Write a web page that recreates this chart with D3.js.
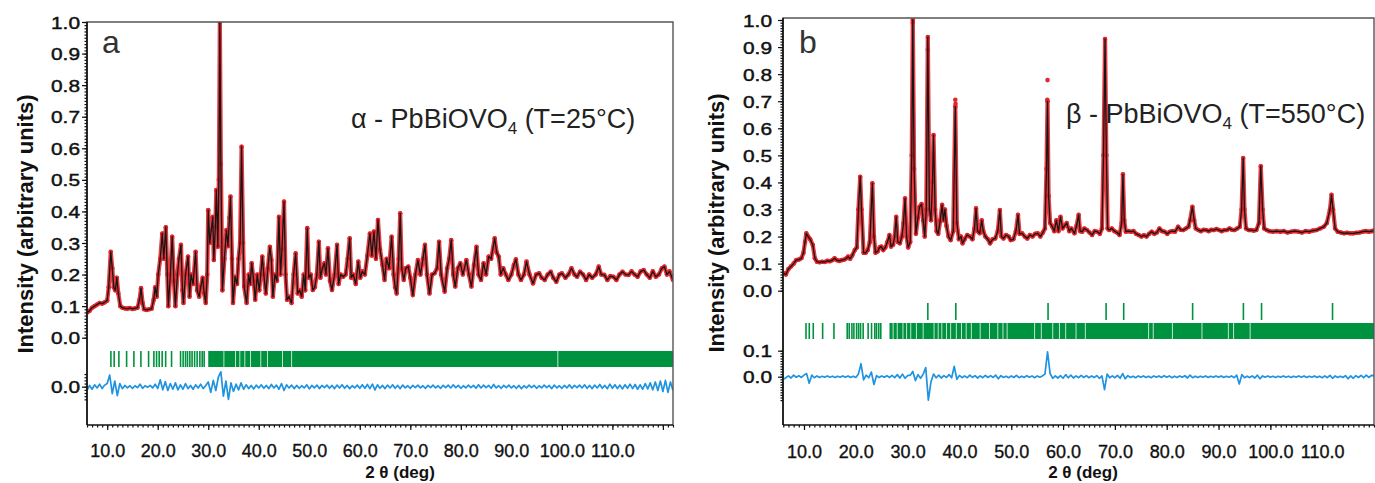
<!DOCTYPE html>
<html><head><meta charset="utf-8">
<script src="https://cdn.jsdelivr.net/npm/d3@7"></script>
<style>body{margin:0;background:#fff} svg{display:block} text{font-family:"Liberation Sans",Arial,sans-serif}</style>
</head><body><svg id="c" width="1375" height="483"></svg>
<script>
// ---------- DATA ----------
// panel a : alpha-PbBiOVO4, 25 C  : [2theta, normalised intensity]
const profileA = [[6.0,0.08],[6.5,0.085],[7.0,0.095],[7.5,0.1],[8.0,0.105],[8.5,0.11],[9.0,0.108],[9.5,0.112],[10.0,0.118],[10.3,0.16],[10.7,0.272],[11.0,0.22],[11.3,0.16],[11.6,0.15],[11.9,0.19],[12.2,0.14],[12.6,0.1],[13.0,0.095],[13.5,0.093],[14.0,0.092],[14.5,0.094],[15.0,0.091],[15.5,0.093],[16.0,0.095],[16.4,0.12],[16.7,0.157],[17.0,0.11],[17.3,0.09],[17.8,0.088],[18.3,0.09],[18.8,0.092],[19.2,0.12],[19.5,0.16],[19.8,0.13],[20.1,0.2],[20.5,0.25],[20.9,0.33],[21.2,0.25],[21.6,0.35],[21.9,0.2],[22.1,0.1],[22.5,0.2],[22.86,0.32],[23.2,0.18],[23.5,0.1],[23.9,0.2],[24.2,0.25],[24.6,0.294],[24.9,0.15],[25.1,0.11],[25.5,0.2],[26.0,0.257],[26.3,0.13],[26.6,0.2],[27.0,0.17],[27.5,0.272],[27.8,0.15],[28.2,0.13],[28.5,0.16],[28.9,0.19],[29.2,0.14],[29.5,0.11],[29.8,0.2],[30.0,0.404],[30.3,0.3],[30.6,0.341],[30.9,0.383],[31.1,0.246],[31.4,0.35],[31.6,0.468],[31.9,0.288],[32.1,0.5],[32.3,1.0],[32.5,0.55],[32.8,0.15],[33.2,0.25],[33.6,0.341],[33.9,0.29],[34.2,0.38],[34.4,0.447],[34.7,0.25],[34.9,0.11],[35.3,0.193],[35.7,0.17],[36.0,0.25],[36.3,0.3],[36.6,0.605],[36.9,0.3],[37.1,0.162],[37.6,0.11],[38.0,0.2],[38.3,0.17],[38.6,0.236],[39.0,0.18],[39.3,0.12],[39.7,0.2],[40.1,0.15],[40.4,0.2],[40.7,0.257],[41.0,0.2],[41.4,0.14],[41.8,0.22],[42.2,0.288],[42.5,0.246],[42.8,0.13],[43.2,0.2],[43.6,0.18],[44.0,0.383],[44.3,0.2],[44.6,0.28],[45.0,0.431],[45.3,0.2],[45.6,0.12],[46.0,0.13],[46.5,0.11],[46.9,0.2],[47.3,0.267],[47.7,0.14],[48.1,0.15],[48.5,0.13],[48.9,0.2],[49.2,0.15],[49.6,0.347],[49.9,0.19],[50.3,0.2],[50.7,0.151],[51.1,0.16],[51.5,0.2],[51.9,0.304],[52.2,0.19],[52.6,0.22],[53.0,0.236],[53.3,0.2],[53.7,0.283],[54.1,0.18],[54.5,0.151],[55.0,0.2],[55.5,0.294],[55.8,0.17],[56.2,0.2],[56.7,0.193],[57.2,0.2],[57.6,0.25],[58.0,0.315],[58.3,0.19],[58.7,0.2],[59.2,0.17],[59.7,0.241],[60.1,0.19],[60.5,0.21],[61.0,0.2],[61.5,0.26],[62.0,0.33],[62.4,0.26],[62.8,0.336],[63.2,0.25],[63.6,0.373],[64.0,0.28],[64.5,0.23],[64.9,0.183],[65.3,0.25],[65.8,0.22],[66.3,0.32],[66.7,0.2],[67.0,0.16],[67.3,0.14],[67.7,0.25],[68.0,0.394],[68.3,0.22],[68.7,0.183],[69.1,0.22],[69.6,0.225],[70.0,0.19],[70.5,0.135],[71.0,0.2],[71.5,0.246],[72.0,0.2],[72.5,0.25],[72.9,0.294],[73.3,0.2],[73.8,0.14],[74.3,0.2],[74.8,0.204],[75.3,0.22],[75.7,0.304],[76.1,0.2],[76.8,0.146],[77.3,0.22],[77.7,0.25],[78.1,0.309],[78.5,0.2],[78.9,0.162],[79.4,0.22],[79.9,0.236],[80.4,0.2],[81.1,0.246],[81.6,0.2],[82.1,0.162],[82.6,0.23],[83.1,0.288],[83.5,0.2],[84.0,0.183],[84.5,0.236],[85.0,0.2],[85.5,0.257],[86.0,0.25],[86.7,0.315],[87.1,0.27],[87.5,0.257],[87.9,0.2],[88.4,0.22],[88.9,0.2],[89.4,0.183],[90.0,0.2],[90.5,0.23],[90.9,0.248],[91.4,0.2],[91.9,0.183],[92.5,0.2],[93.0,0.241],[93.6,0.2],[94.3,0.172],[94.9,0.2],[95.5,0.204],[96.0,0.19],[96.6,0.183],[97.2,0.2],[97.8,0.209],[98.3,0.19],[98.9,0.177],[99.5,0.2],[100.0,0.204],[100.7,0.19],[101.3,0.2],[101.9,0.22],[102.5,0.2],[103.0,0.193],[103.6,0.209],[104.2,0.2],[104.8,0.183],[105.4,0.2],[106.0,0.19],[106.7,0.2],[107.3,0.225],[107.8,0.2],[108.4,0.199],[109.0,0.183],[109.6,0.195],[110.2,0.193],[110.8,0.183],[111.4,0.2],[112.0,0.209],[112.6,0.2],[113.2,0.199],[113.8,0.21],[114.4,0.2],[115.0,0.193],[115.6,0.21],[116.2,0.214],[116.8,0.2],[117.4,0.19],[118.0,0.21],[118.6,0.193],[119.2,0.2],[119.8,0.22],[120.3,0.225],[120.8,0.2],[121.3,0.21],[122.0,0.183]];
const obsExtraA = [];
// difference curve, one value every 0.5 deg starting at 6.0
const diffStartA = 6.0;
const diffA = [-0.012,0.004,-0.008,0.006,-0.004,0.008,-0.006,0.005,0.010,0.037,
-0.022,0.018,-0.028,0.010,-0.006,0.004,-0.004,0.003,-0.005,0.003,
-0.003,0.008,-0.005,0.003,-0.002,0.004,-0.004,0.008,-0.006,0.022,
-0.010,0.016,-0.012,0.010,-0.008,0.012,-0.010,0.006,-0.008,0.010,
-0.006,0.004,-0.008,0.006,-0.004,0.008,-0.006,0.004,0.015,-0.018,
0.020,-0.012,0.030,0.047,-0.030,0.018,-0.040,0.012,-0.015,0.008,
-0.010,0.012,-0.008,0.006,-0.006,0.004,-0.007,0.005,-0.004,0.006,
-0.005,0.004,-0.006,0.007,-0.004,0.005,-0.008,0.010,-0.012,0.006,
-0.004,0.005,-0.006,0.004,-0.005,0.003,-0.004,0.006,-0.007,0.004,
-0.004,0.005,-0.006,0.004,-0.003,0.005,-0.005,0.004,-0.006,0.005,
-0.004,0.006,-0.005,0.004,-0.006,0.003,-0.004,0.005,-0.005,0.006,
-0.005,0.007,-0.006,0.008,-0.010,0.006,-0.005,0.004,-0.006,0.005,
-0.004,0.006,-0.005,0.004,-0.006,0.005,-0.004,0.003,-0.005,0.004,
-0.003,0.005,-0.004,0.003,-0.005,0.004,-0.003,0.005,-0.004,0.003,
-0.005,0.004,-0.003,0.005,-0.004,0.006,-0.003,0.004,-0.005,0.003,
-0.004,0.005,-0.003,0.004,-0.005,0.006,-0.004,0.005,-0.003,0.004,
-0.005,0.007,-0.004,0.003,-0.005,0.004,-0.003,0.005,-0.004,0.003,
-0.005,0.004,-0.006,0.003,-0.004,0.005,-0.003,0.004,-0.005,0.003,
-0.004,0.005,-0.003,0.004,-0.006,0.005,-0.004,0.003,-0.005,0.004,
-0.004,0.006,-0.005,0.004,-0.003,0.005,-0.004,0.006,-0.005,0.004,
-0.006,0.005,-0.004,0.007,-0.005,0.004,-0.006,0.008,-0.005,0.006,
-0.006,0.005,-0.007,0.006,-0.005,0.008,-0.006,0.007,-0.008,0.006,
-0.008,0.010,-0.007,0.012,-0.010,0.015,-0.012,0.018,-0.015,0.020,
-0.018,0.015,-0.012];
// Bragg reflection markers
const reflA = [10.73,11.38,12.31,13.84,15.28,16.67,18.19,19.24,19.77,20.29,20.88,21.57,22.74,24.52,25.03,25.5,25.9,26.36,26.8,27.3,27.8,28.34,28.8,29.19];
const bandA = [30.0,122.0];
const bandGapsA = [33.1,35.4,36.25,37.24,38.37,40.4,41.73,44.7,46.5,99.2];
const refl2A = [];

// panel b : beta-PbBiOVO4, 550 C
const profileB = [[6.0,0.065],[6.5,0.06],[7.0,0.08],[7.5,0.09],[8.0,0.1],[8.5,0.113],[9.0,0.115],[9.5,0.12],[9.9,0.14],[10.2,0.18],[10.45,0.212],[10.8,0.2],[11.2,0.19],[11.7,0.169],[12.1,0.12],[12.5,0.107],[13.0,0.105],[13.5,0.107],[14.0,0.106],[14.5,0.11],[15.0,0.109],[15.5,0.113],[15.9,0.12],[16.3,0.113],[16.8,0.11],[17.3,0.113],[17.8,0.115],[18.2,0.12],[18.5,0.126],[18.9,0.118],[19.3,0.13],[19.8,0.15],[20.2,0.16],[20.5,0.3],[20.85,0.421],[21.1,0.3],[21.5,0.14],[21.9,0.14],[22.3,0.15],[22.7,0.18],[23.2,0.397],[23.5,0.2],[23.8,0.14],[24.2,0.145],[24.6,0.16],[24.9,0.163],[25.3,0.15],[25.7,0.16],[26.1,0.18],[26.5,0.206],[26.8,0.163],[27.2,0.17],[27.5,0.2],[27.8,0.273],[28.1,0.18],[28.5,0.175],[28.9,0.2],[29.2,0.25],[29.5,0.341],[29.8,0.2],[30.1,0.16],[30.5,0.18],[30.8,0.5],[31.0,1.0],[31.25,0.45],[31.6,0.21],[32.0,0.27],[32.3,0.31],[32.7,0.32],[33.0,0.26],[33.3,0.2],[33.6,0.3],[33.9,0.937],[34.2,0.3],[34.5,0.26],[34.8,0.4],[35.0,0.575],[35.3,0.3],[35.6,0.22],[35.9,0.21],[36.3,0.26],[36.65,0.317],[36.9,0.26],[37.2,0.3],[37.5,0.24],[37.9,0.2],[38.3,0.187],[38.8,0.22],[39.2,0.68],[39.5,0.25],[39.9,0.19],[40.3,0.2],[40.6,0.175],[41.0,0.19],[41.5,0.206],[42.0,0.2],[42.5,0.19],[42.9,0.23],[43.2,0.304],[43.5,0.22],[43.9,0.212],[44.3,0.26],[44.6,0.22],[45.0,0.2],[45.5,0.19],[45.9,0.175],[46.4,0.19],[46.9,0.193],[47.4,0.22],[47.8,0.298],[48.1,0.2],[48.5,0.193],[49.0,0.206],[49.5,0.2],[49.9,0.187],[50.4,0.19],[50.9,0.22],[51.3,0.28],[51.6,0.21],[52.1,0.212],[52.6,0.2],[53.1,0.193],[53.6,0.206],[54.1,0.2],[54.6,0.21],[55.1,0.212],[55.6,0.2],[56.1,0.215],[56.5,0.23],[56.8,0.45],[57.0,0.7],[57.2,0.35],[57.5,0.25],[57.9,0.237],[58.3,0.22],[58.7,0.26],[59.1,0.22],[59.5,0.273],[59.9,0.23],[60.3,0.24],[60.7,0.25],[61.2,0.22],[61.6,0.23],[62.2,0.212],[62.6,0.24],[63.0,0.28],[63.3,0.22],[63.7,0.218],[64.1,0.23],[64.6,0.224],[65.1,0.215],[65.6,0.206],[66.1,0.22],[66.6,0.218],[67.1,0.21],[67.5,0.23],[67.8,0.5],[68.1,0.93],[68.35,0.5],[68.6,0.23],[68.9,0.224],[69.4,0.23],[69.9,0.22],[70.4,0.215],[70.9,0.206],[71.3,0.25],[71.55,0.43],[71.8,0.26],[72.1,0.218],[72.6,0.22],[73.1,0.218],[73.6,0.22],[74.1,0.21],[74.6,0.206],[75.1,0.2],[75.6,0.205],[76.1,0.2],[76.6,0.21],[77.1,0.218],[77.6,0.21],[78.1,0.215],[78.6,0.23],[79.1,0.22],[79.6,0.218],[80.1,0.21],[80.6,0.218],[81.1,0.22],[81.6,0.218],[82.2,0.236],[82.7,0.225],[83.2,0.224],[83.7,0.23],[84.2,0.236],[84.5,0.26],[84.95,0.31],[85.3,0.26],[85.6,0.23],[86.1,0.224],[86.6,0.22],[87.1,0.225],[87.6,0.224],[88.1,0.22],[88.6,0.225],[89.1,0.224],[89.6,0.228],[90.1,0.224],[90.6,0.22],[91.1,0.224],[91.6,0.224],[92.1,0.23],[92.6,0.225],[93.1,0.224],[93.6,0.23],[94.1,0.236],[94.45,0.3],[94.75,0.49],[95.0,0.3],[95.3,0.23],[95.8,0.224],[96.3,0.224],[96.8,0.222],[97.3,0.224],[97.8,0.25],[98.15,0.46],[98.5,0.3],[98.8,0.23],[99.3,0.224],[99.8,0.22],[100.5,0.218],[101.2,0.22],[101.9,0.218],[102.6,0.22],[103.3,0.215],[104.0,0.218],[104.7,0.22],[105.4,0.218],[106.1,0.215],[106.8,0.22],[107.5,0.218],[108.2,0.222],[108.9,0.224],[109.6,0.23],[110.3,0.236],[110.9,0.25],[111.5,0.3],[111.8,0.354],[112.1,0.3],[112.5,0.23],[113.0,0.218],[113.6,0.215],[114.2,0.212],[114.8,0.214],[115.4,0.212],[116.0,0.212],[116.6,0.214],[117.2,0.215],[117.8,0.218],[118.4,0.22],[119.0,0.218],[119.6,0.22],[120.0,0.222]];
const obsExtraB = [[56.95,0.705],[57.0,0.778],[39.2,0.705],[39.25,0.69],[33.9,0.89],[31.0,0.99]];
const diffStartB = 6.0;
const diffB = [-0.010,-0.004,0.003,-0.005,0.006,-0.002,0.004,-0.003,0.006,0.012,
-0.025,0.006,-0.004,0.003,-0.003,0.002,-0.002,0.003,-0.002,0.002,
-0.003,0.002,-0.002,0.003,-0.002,0.003,-0.003,0.002,-0.003,0.010,
0.050,-0.012,0.006,-0.004,0.018,-0.030,0.004,-0.003,0.003,-0.002,
0.004,-0.003,0.005,-0.004,0.008,-0.005,0.010,-0.006,0.004,0.006,
0.020,-0.015,0.008,-0.006,0.010,0.035,-0.090,-0.020,0.010,-0.004,
0.006,-0.005,0.004,-0.003,0.008,-0.004,0.040,-0.010,0.005,-0.004,
0.003,-0.004,0.006,-0.003,0.004,-0.005,0.003,-0.004,0.005,-0.003,
0.004,-0.003,0.006,-0.008,0.004,-0.003,0.002,-0.004,0.003,-0.003,
0.005,-0.004,0.002,-0.003,0.004,-0.002,0.003,-0.004,0.003,-0.002,
0.003,0.010,0.096,0.012,-0.006,0.003,-0.005,0.004,-0.006,0.008,
-0.004,0.006,-0.005,0.003,-0.004,0.005,-0.003,0.004,-0.004,0.003,
-0.003,0.004,-0.006,0.003,-0.050,0.010,-0.004,0.003,-0.004,0.005,
-0.006,0.012,-0.008,0.004,-0.003,0.002,-0.004,0.003,-0.002,0.003,
-0.003,0.002,-0.004,0.003,-0.002,0.003,-0.003,0.004,-0.002,0.003,
-0.004,0.002,-0.003,0.003,-0.002,0.004,-0.005,0.006,-0.004,0.002,
-0.003,0.002,-0.002,0.003,-0.003,0.002,-0.002,0.003,-0.002,0.003,
-0.003,0.002,-0.002,0.003,-0.004,0.006,-0.028,0.008,-0.004,0.002,
-0.003,0.003,-0.005,0.006,-0.008,0.003,-0.002,0.003,-0.002,0.002,
-0.003,0.002,-0.002,0.003,-0.002,0.002,-0.003,0.002,-0.002,0.003,
-0.002,0.003,-0.003,0.002,-0.002,0.003,-0.003,0.002,-0.004,0.003,
-0.004,0.005,-0.006,0.003,-0.003,0.002,-0.003,0.004,-0.008,0.003,
-0.006,0.004,-0.003,0.005,-0.004,0.006,-0.003,0.005,0.004];
const reflB = [10.39,11.02,11.79,13.6,15.78,18.34,18.73,19.25,19.63,20.15,20.54,20.92,21.42,22.38,23.04,23.67,24.0,24.43,24.82];
const bandB = [26.5,120.0];
const bandGapsB = [27.2,28.0,29.1,29.8,30.6,31.7,33.0,35.1,35.9,36.6,37.5,38.3,39.4,40.4,41.3,42.3,44.0,45.8,47.4,48.4,49.2,54.5,55.8,58.0,59.3,60.5,62.5,64.3,76.5,77.4,81.1,86.8,91.9,92.9,96.1];
const refl2B = [33.9,39.3,57.1,68.3,71.7,85.0,94.8,98.3,112.0];

const xTicksA = [10,20,30,40,50,60,70,80,90,100,110,120];
const xTicksB = [10,20,30,40,50,60,70,80,90,100,110];
const yTicks = [0,0.1,0.2,0.3,0.4,0.5,0.6,0.7,0.8,0.9,1.0];
const diffTicksA = [0];
const diffTicksB = [0,0.1];
const labelA = "a", labelB = "b";
const titleA = {pre:"\u03b1 - PbBiOVO", sub:"4", post:" (T=25\u00b0C)"};
const titleB = {pre:"\u03b2 - PbBiOVO", sub:"4", post:" (T=550\u00b0C)"};
const yTitle = "Intensity (arbitrary units)";
const xTitle = "2 \u03b8 (deg)";

// ---------- DRAWING ----------
const svg = d3.select('#c');
const RED = '#e3262b', BLACK = '#151515', GREEN = '#00933f', BLUE = '#1f93e0';

function drawPanel(c) {
  const g = svg.append('g');
  const x = d3.scaleLinear().domain(c.xDomain).range([c.left, c.right]);
  const y = d3.scaleLinear().domain([0, 1]).range([c.y0, c.y1]);
  const yd = d3.scaleLinear().domain([0, 0.1]).range([c.d0, c.d1]);
  const clipId = 'clip' + c.id;
  svg.append('clipPath').attr('id', clipId).append('rect')
    .attr('x', c.left).attr('y', c.top).attr('width', c.right - c.left).attr('height', c.bottom - c.top);
  const plot = g.append('g').attr('clip-path', `url(#${clipId})`);

  // reflection markers
  plot.append('rect').attr('x', x(c.band[0])).attr('width', x(c.band[1]) - x(c.band[0]))
    .attr('y', c.tickY[0]).attr('height', c.tickY[1] - c.tickY[0]).attr('fill', GREEN);
  plot.selectAll('.gap').data(c.gaps).join('line')
    .attr('x1', d => x(d)).attr('x2', d => x(d)).attr('y1', c.tickY[0]).attr('y2', c.tickY[1])
    .attr('stroke', '#fff').attr('stroke-opacity', 0.75).attr('stroke-width', 1);
  plot.selectAll('.refl').data(c.refl).join('line')
    .attr('x1', d => x(d)).attr('x2', d => x(d)).attr('y1', c.tickY[0]).attr('y2', c.tickY[1])
    .attr('stroke', GREEN).attr('stroke-width', 1.6);
  plot.selectAll('.refl2').data(c.refl2).join('line')
    .attr('x1', d => x(d)).attr('x2', d => x(d)).attr('y1', c.tick2Y[0]).attr('y2', c.tick2Y[1])
    .attr('stroke', GREEN).attr('stroke-width', 1.6);

  // difference curve
  const diffPts = c.diff.map((v, i) => [c.diffStart + i * 0.5, v]);
  plot.append('path').attr('d', d3.line().x(d => x(d[0])).y(d => yd(d[1]))(diffPts))
    .attr('fill', 'none').attr('stroke', BLUE).attr('stroke-width', 1.7).attr('stroke-linejoin', 'round');

  // observed (red) and calculated (black)
  const line = d3.line().x(d => x(d[0])).y(d => y(d[1]));
  plot.append('path').attr('d', line(c.profile)).attr('fill', 'none')
    .attr('stroke', RED).attr('stroke-width', 4.2).attr('stroke-opacity', 0.9).attr('stroke-linejoin', 'round');
  plot.selectAll('.obs').data(c.profile.concat(c.obsExtra)).join('circle')
    .attr('cx', d => x(d[0])).attr('cy', d => y(d[1])).attr('r', 2.3).attr('fill', RED);
  plot.append('path').attr('d', line(c.profile)).attr('fill', 'none')
    .attr('stroke', BLACK).attr('stroke-width', 1.3).attr('stroke-linejoin', 'round');

  // frame
  g.append('path').attr('d', `M${c.left},${c.bottom}V${c.top}H${c.right}V${c.bottom}`)
    .attr('fill', 'none').attr('stroke', '#555').attr('stroke-width', 1.4);
  g.append('line').attr('x1', c.left).attr('x2', c.left).attr('y1', c.top).attr('y2', c.bottom)
    .attr('stroke', '#111').attr('stroke-width', 1.6);
  g.append('line').attr('x1', c.left).attr('x2', c.right).attr('y1', c.bottom).attr('y2', c.bottom)
    .attr('stroke', '#111').attr('stroke-width', 1.6);

  // y axes
  const styleAxis = sel => { sel.select('.domain').remove(); sel.selectAll('line').attr('stroke', '#111').attr('stroke-width', 1.2); };
  const minor = d3.range(0, 101).map(i => i / 100);
  g.append('g').attr('transform', `translate(${c.left},0)`)
    .call(d3.axisLeft(y).tickValues(minor).tickSize(2.5).tickFormat('')).call(styleAxis);
  const ya = g.append('g').attr('transform', `translate(${c.left},0)`)
    .call(d3.axisLeft(y).tickValues(yTicks).tickSize(5).tickPadding(c.yPad).tickFormat(d3.format('.1f')))
    .call(styleAxis);
  const dMinor = d3.range(c.dMinor[0], c.dMinor[1] + 1).map(i => i / 100);
  g.append('g').attr('transform', `translate(${c.left},0)`)
    .call(d3.axisLeft(yd).tickValues(dMinor).tickSize(2.5).tickFormat('')).call(styleAxis);
  const yda = g.append('g').attr('transform', `translate(${c.left},0)`)
    .call(d3.axisLeft(yd).tickValues(c.diffTicks).tickSize(5).tickPadding(c.yPad).tickFormat(d3.format('.1f')))
    .call(styleAxis);
  [ya, yda].forEach(a => a.selectAll('text').attr('font-size', 17).attr('fill', '#111')
    .attr('stroke', '#111').attr('stroke-width', 0.45)
    .attr('font-family', '"Liberation Sans",Arial,sans-serif')
    .attr('textLength', 29).attr('lengthAdjust', 'spacingAndGlyphs').attr('dy', '0.36em'));

  // x axis
  g.append('g').attr('transform', `translate(0,${c.bottom})`)
    .call(d3.axisBottom(x).tickValues(d3.range(Math.ceil(c.xDomain[0]), Math.floor(c.xDomain[1]) + 1)).tickSize(2.5).tickFormat(''))
    .call(styleAxis);
  const xa = g.append('g').attr('transform', `translate(0,${c.bottom})`)
    .call(d3.axisBottom(x).tickValues(c.xTicks).tickSize(5).tickFormat(d => d > 110 ? '' : d3.format('.1f')(d)))
    .call(styleAxis);
  xa.selectAll('text').attr('font-size', 18).attr('fill', '#111').attr('y', c.xLabY).attr('dy', 0)
    .attr('stroke', '#111').attr('stroke-width', 0.35)
    .attr('font-family', '"Liberation Sans",Arial,sans-serif');

  // titles
  g.append('text').attr('transform', `translate(${c.yTitleX},${c.yTitleY}) rotate(-90)`)
    .attr('text-anchor', 'middle').attr('dy', '0.36em').attr('font-size', 22).attr('font-weight', 'bold')
    .attr('fill', '#111').text(yTitle);
  g.append('text').attr('x', c.xTitleX).attr('y', 478).attr('text-anchor', 'middle')
    .attr('font-size', 17).attr('font-weight', 'bold').attr('fill', '#111').text(xTitle);
  g.append('text').attr('x', c.letter[0]).attr('y', c.letter[1]).attr('font-size', 32).attr('fill', '#333').text(c.letterText);
  const t = g.append('text').attr('x', c.title[0]).attr('y', c.title[1]).attr('font-size', 27).attr('fill', '#222');
  t.append('tspan').text(c.titleText.pre);
  t.append('tspan').attr('font-size', 17).attr('dy', 6).text(c.titleText.sub);
  t.append('tspan').attr('dy', -6).text(c.titleText.post);
}

drawPanel({id: 'A', xDomain: [6.0, 122.0], left: 87, right: 673, top: 22, bottom: 425,
  y0: 337.7, y1: 22, d0: 386.7, d1: 355.1, diffStart: diffStartA, diff: diffA,
  profile: profileA, obsExtra: obsExtraA, refl: reflA, band: bandA, gaps: bandGapsA, refl2: refl2A,
  tickY: [351, 367], tick2Y: [0, 0], xTicks: xTicksA, diffTicks: diffTicksA, dMinor: [-4, 4],
  yPad: 2, xLabY: 32, yTitleX: 25, yTitleY: 224, xTitleX: 400, letter: [102, 53], letterText: labelA,
  title: [351, 128], titleText: titleA});
drawPanel({id: 'B', xDomain: [5.95, 120.0], left: 783, right: 1374, top: 18, bottom: 425,
  y0: 290.7, y1: 20, d0: 376.7, d1: 350.7, diffStart: diffStartB, diff: diffB,
  profile: profileB, obsExtra: obsExtraB, refl: reflB, band: bandB, gaps: bandGapsB, refl2: refl2B,
  tickY: [323, 339], tick2Y: [303, 320], xTicks: xTicksB, diffTicks: diffTicksB, dMinor: [-9, 10],
  yPad: 6, xLabY: 33, yTitleX: 716, yTitleY: 223, xTitleX: 1083, letter: [799, 53], letterText: labelB,
  title: [1066, 123], titleText: titleB});
</script></body></html>
